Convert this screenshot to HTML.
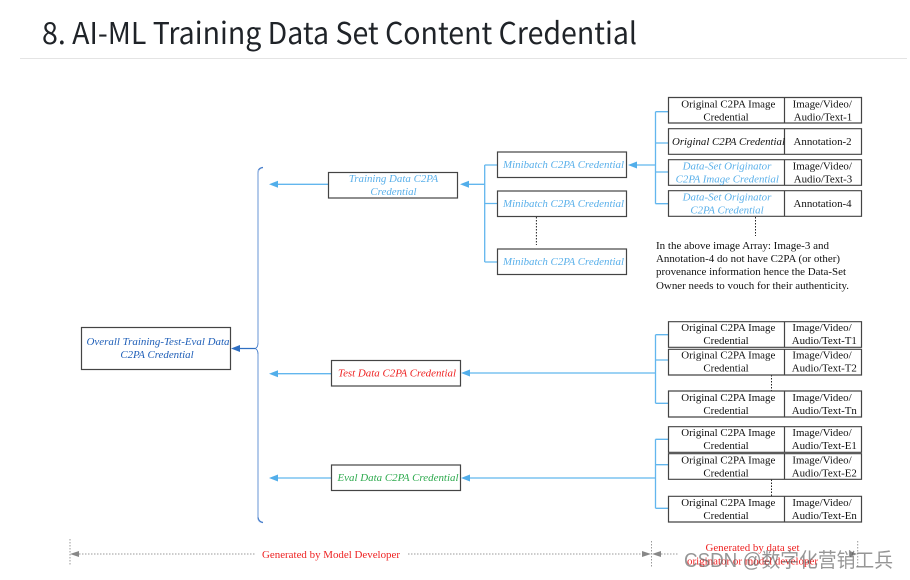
<!DOCTYPE html>
<html><head><meta charset="utf-8"><style>
html,body{margin:0;padding:0;background:#fff}
svg{display:block}
.t{font-family:"Liberation Serif",serif;font-size:10.9px;fill:#111}
.c{text-anchor:middle}
.i{font-style:italic}
.b{fill:#5ab0ea}
.box{fill:#fff;stroke:#444;stroke-width:1.2}
.ln{fill:none;stroke:#62b6ee;stroke-width:1.3}
.ah{fill:#52aeea}
.dot{stroke:#222;stroke-width:1;stroke-dasharray:1.5 1.5}
.gd{stroke:#999;stroke-width:1;stroke-dasharray:1.5 1.5}
.r{fill:#ee2222}
</style></head><body>
<svg width="910" height="580" viewBox="0 0 910 580" xmlns="http://www.w3.org/2000/svg">
<text x="42" y="44" textLength="595" lengthAdjust="spacingAndGlyphs" style="font-family:'Noto Sans CJK SC','Liberation Sans',sans-serif;font-size:30px;fill:#1f2328">8. AI-ML Training Data Set Content Credential</text>
<line x1="20" y1="58.5" x2="907" y2="58.5" stroke="#e4e4e4" stroke-width="1"/>

<!-- connectors top-right -->
<path class="ln" d="M655.5 111.7V203.7M655.5 111.7H668M655.5 143H668M655.5 172H668M655.5 203.7H668M655.5 165H636"/>
<polygon class="ah" points="628,165 637,161.5 637,168.5"/>
<path class="ln" d="M484.7 165V262M484.7 165H497M484.7 203.5H497M484.7 262H497M484.7 184.3H468"/>
<polygon class="ah" points="460,184.3 469,180.8 469,187.8"/>
<path class="ln" d="M328 184.3H277"/>
<polygon class="ah" points="269,184.3 278,180.8 278,187.8"/>

<!-- connectors mid -->
<path class="ln" d="M655.5 334.7V403.3M655.5 334.7H668M655.5 360H668M655.5 403.3H668M655.5 373H470"/>
<polygon class="ah" points="461,373 470,369.5 470,376.5"/>
<path class="ln" d="M655.5 439.3V508.3M655.5 439.3H668M655.5 464.7H668M655.5 508.3H668M655.5 478H470"/>
<polygon class="ah" points="461,478 470,474.5 470,481.5"/>
<path class="ln" d="M331 373.7H277M331 478H277"/>
<polygon class="ah" points="269,373.7 278,370.2 278,377.2"/>
<polygon class="ah" points="269,478 278,474.5 278,481.5"/>

<!-- brace -->
<path d="M258 173Q258 168 263 167.5M258 173V343M258 354V517Q258 522 263 522.5" fill="none" stroke="#9ab8e4" stroke-width="1.5"/>
<path d="M263 167.5Q260 167.6 258.5 170M258 343Q258 347.5 255 348.5Q258 349.5 258 354M258 517.5Q259 522 263 522.5" fill="none" stroke="#3f78c8" stroke-width="0.9"/>
<path d="M255 348.5H238" stroke="#2f6fc2" stroke-width="1.2"/>
<polygon fill="#2f6fc2" points="231,348.5 240,345 240,352"/>

<!-- dotted -->
<line class="dot" x1="536.4" y1="217" x2="536.4" y2="245"/>
<line class="dot" x1="755.5" y1="217" x2="755.5" y2="236"/>
<line class="dot" x1="771.5" y1="375" x2="771.5" y2="391"/>
<line class="dot" x1="771.5" y1="479.5" x2="771.5" y2="496"/>

<!-- left boxes -->
<rect class="box" x="81.5" y="327.5" width="149" height="42"/>
<text class="t i c" x="158" y="345" style="fill:#1f5fb8" textLength="143" lengthAdjust="spacingAndGlyphs">Overall Training-Test-Eval Data</text>
<text class="t i c" x="157" y="358" style="fill:#1f5fb8">C2PA Credential</text>

<rect class="box" x="328.5" y="172.5" width="129" height="25.5"/>
<text class="t i c b" x="393.5" y="182">Training Data C2PA</text>
<text class="t i c b" x="393.5" y="195">Credential</text>

<rect class="box" x="331.5" y="360.5" width="129" height="25.5"/>
<text class="t i c r" x="397" y="376.5" textLength="118" lengthAdjust="spacingAndGlyphs">Test Data C2PA Credential</text>

<rect class="box" x="331.5" y="465" width="129" height="25.5"/>
<text class="t i c" x="398" y="481" style="fill:#2eaa4e" textLength="121" lengthAdjust="spacingAndGlyphs">Eval Data C2PA Credential</text>

<!-- minibatch -->
<rect class="box" x="497.5" y="152" width="129" height="25.5"/>
<text class="t i c b" x="563.5" y="168" textLength="121" lengthAdjust="spacingAndGlyphs">Minibatch C2PA Credential</text>
<rect class="box" x="497.5" y="191" width="129" height="25.5"/>
<text class="t i c b" x="563.5" y="207" textLength="121" lengthAdjust="spacingAndGlyphs">Minibatch C2PA Credential</text>
<rect class="box" x="497.5" y="249" width="129" height="25.5"/>
<text class="t i c b" x="563.5" y="265" textLength="121" lengthAdjust="spacingAndGlyphs">Minibatch C2PA Credential</text>

<!-- top table -->
<path class="box" d="M668.5 97.5H861.5V123H668.5ZM784.5 97.5V123"/>
<text class="t c" x="728.3" y="107.5">Original C2PA Image</text>
<text class="t c" x="726" y="120.5">Credential</text>
<text class="t c" x="822.3" y="107.5">Image/Video/</text>
<text class="t c" x="823" y="120.5">Audio/Text-1</text>

<path class="box" d="M668.5 128.7H861.5V154.3H668.5ZM784.5 128.7V154.3"/>
<text class="t i c" x="728.5" y="145" textLength="113" lengthAdjust="spacingAndGlyphs">Original C2PA Credential</text>
<text class="t c" x="822.6" y="145">Annotation-2</text>

<path class="box" d="M668.5 159.7H861.5V185.3H668.5ZM784.5 159.7V185.3"/>
<text class="t i c b" x="727" y="169.5">Data-Set Originator</text>
<text class="t i c b" x="727.3" y="182.5">C2PA Image Credential</text>
<text class="t c" x="822.3" y="169.5">Image/Video/</text>
<text class="t c" x="823" y="182.5">Audio/Text-3</text>

<path class="box" d="M668.5 190.7H861.5V216.3H668.5ZM784.5 190.7V216.3"/>
<text class="t i c b" x="727" y="200.5">Data-Set Originator</text>
<text class="t i c b" x="727" y="213.5">C2PA Credential</text>
<text class="t c" x="822.6" y="207">Annotation-4</text>

<text class="t" x="656" y="249" textLength="173" lengthAdjust="spacingAndGlyphs">In the above image Array: Image-3 and</text>
<text class="t" x="656" y="262" textLength="184" lengthAdjust="spacingAndGlyphs">Annotation-4 do not have C2PA (or other)</text>
<text class="t" x="656" y="275" textLength="190" lengthAdjust="spacingAndGlyphs">provenance information hence the Data-Set</text>
<text class="t" x="656" y="289" textLength="193" lengthAdjust="spacingAndGlyphs">Owner needs to vouch for their authenticity.</text>

<!-- test table -->
<path class="box" d="M668.5 321.7H861.5V347.3H668.5ZM784.5 321.7V347.3"/>
<text class="t c" x="728.3" y="331">Original C2PA Image</text>
<text class="t c" x="726" y="344">Credential</text>
<text class="t c" x="822" y="331">Image/Video/</text>
<text class="t c" x="824.3" y="344">Audio/Text-T1</text>

<path class="box" d="M668.5 349.3H861.5V375H668.5ZM784.5 349.3V375"/>
<text class="t c" x="728.3" y="358.5">Original C2PA Image</text>
<text class="t c" x="726" y="371.5">Credential</text>
<text class="t c" x="822" y="358.5">Image/Video/</text>
<text class="t c" x="824.3" y="371.5">Audio/Text-T2</text>

<path class="box" d="M668.5 391H861.5V417H668.5ZM784.5 391V417"/>
<text class="t c" x="728.3" y="401">Original C2PA Image</text>
<text class="t c" x="726" y="414">Credential</text>
<text class="t c" x="822" y="401">Image/Video/</text>
<text class="t c" x="824.3" y="414">Audio/Text-Tn</text>

<!-- eval table -->
<path class="box" d="M668.5 426.7H861.5V452.3H668.5ZM784.5 426.7V452.3"/>
<text class="t c" x="728.3" y="436">Original C2PA Image</text>
<text class="t c" x="726" y="449">Credential</text>
<text class="t c" x="822" y="436">Image/Video/</text>
<text class="t c" x="824.3" y="449">Audio/Text-E1</text>

<path class="box" d="M668.5 453.7H861.5V479.3H668.5ZM784.5 453.7V479.3"/>
<text class="t c" x="728.3" y="463.5">Original C2PA Image</text>
<text class="t c" x="726" y="476.5">Credential</text>
<text class="t c" x="822" y="463.5">Image/Video/</text>
<text class="t c" x="824.3" y="476.5">Audio/Text-E2</text>

<path class="box" d="M668.5 496.3H861.5V522H668.5ZM784.5 496.3V522"/>
<text class="t c" x="728.3" y="506">Original C2PA Image</text>
<text class="t c" x="726" y="519">Credential</text>
<text class="t c" x="822" y="506">Image/Video/</text>
<text class="t c" x="824.3" y="519">Audio/Text-En</text>

<!-- bottom dimension -->
<line class="gd" x1="70" y1="539" x2="70" y2="565"/>
<line class="gd" x1="651.5" y1="541" x2="651.5" y2="567"/>
<line class="gd" x1="857.7" y1="541" x2="857.7" y2="567"/>
<line class="gd" x1="79" y1="554" x2="255" y2="554"/>
<line class="gd" x1="408" y1="554" x2="642" y2="554"/>
<line class="gd" x1="661" y1="554" x2="678" y2="554"/>
<polygon fill="#888" points="70,554 79,551 79,557"/>
<polygon fill="#888" points="651,554 642,551 642,557"/>
<polygon fill="#888" points="652,554 661,551 661,557"/>
<polygon fill="#888" points="857,554 850,551 850,557"/>
<text class="t r" x="262" y="558" textLength="138" lengthAdjust="spacingAndGlyphs">Generated by Model Developer</text>
<text class="t r c" x="752.5" y="551">Generated by data set</text>
<text class="t r c" x="752.5" y="564.5" textLength="131" lengthAdjust="spacingAndGlyphs">originator or model developer</text>
<text x="684" y="567" textLength="209" lengthAdjust="spacingAndGlyphs" style="font-family:'Liberation Sans','Noto Sans CJK SC',sans-serif;font-size:20px;fill:#555;fill-opacity:.62">CSDN @数字化营销工兵</text>
</svg>
</body></html>
